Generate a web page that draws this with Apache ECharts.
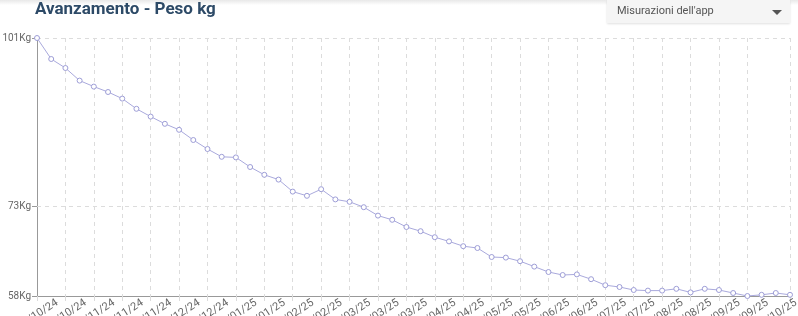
<!DOCTYPE html>
<html>
<head>
<meta charset="utf-8">
<script src="https://cdn.jsdelivr.net/npm/echarts@6/dist/echarts.min.js"></script>
<style>
  html, body { margin: 0; padding: 0; background: #fff; }
  #wrap { position: relative; width: 798px; height: 316px; overflow: hidden; font-family: Roboto, "Noto Sans", sans-serif; background: #fff; }
  #topshade { position: absolute; left: 0; top: 0; width: 798px; height: 5px; background: linear-gradient(#e8e8e8, rgba(255,255,255,0)); z-index: 1; }
  #chart { position: absolute; left: 0; top: 0; width: 798px; height: 316px; z-index: 2; }
  #dropdown { position: absolute; left: 607px; top: 0; width: 183px; height: 23px; background: #f5f5f5; box-shadow: 0 1px 2px rgba(0,0,0,0.12); z-index: 3; }
  #dropdown span { position: absolute; left: 10px; top: 4px; font-size: 11px; color: #555; line-height: 14px; }
  #dropdown i { position: absolute; left: 165px; top: 10px; width: 0; height: 0; border-left: 5px solid transparent; border-right: 5px solid transparent; border-top: 5px solid #555; }
</style>
</head>
<body>
<div id="wrap">
  <div id="topshade"></div>
  <div id="chart"></div>
  <div id="dropdown"><span>Misurazioni dell'app</span><i></i></div>
</div>
<script>
const titleText = 'Avanzamento - Peso kg';
const categories = [
  '04/10/24','11/10/24','18/10/24','25/10/24','01/11/24','08/11/24','15/11/24','22/11/24','29/11/24','06/12/24',
  '13/12/24','20/12/24','27/12/24','03/01/25','10/01/25','17/01/25','24/01/25','31/01/25','07/02/25','14/02/25',
  '21/02/25','28/02/25','04/03/25','09/03/25','15/03/25','21/03/25','28/03/25','04/04/25','11/04/25','18/04/25',
  '25/04/25','02/05/25','09/05/25','16/05/25','23/05/25','30/05/25','06/06/25','13/06/25','20/06/25','27/06/25',
  '04/07/25','11/07/25','18/07/25','25/07/25','01/08/25','08/08/25','15/08/25','22/08/25','02/09/25','09/09/25',
  '19/09/25','26/09/25','03/10/25','10/10/25'
];
const weights = [
  101.0, 97.5, 96.0, 93.9, 92.9, 92.0, 90.9, 89.2, 87.9, 86.7,
  85.7, 84.0, 82.5, 81.2, 81.1, 79.5, 78.2, 77.4, 75.4, 74.7,
  75.8, 74.1, 73.7, 72.8, 71.4, 70.7, 69.5, 68.8, 67.8, 67.1,
  66.3, 66.0, 64.5, 64.4, 63.8, 62.9, 62.0, 61.5, 61.6, 60.8,
  59.8, 59.5, 59.0, 58.9, 58.9, 59.2, 58.6, 59.2, 59.0, 58.5,
  58.0, 58.2, 58.5, 58.2
];
const yTickValues = [58, 73, 101];
const yMin = 58;
const yMax = 101;

const chart = echarts.init(document.getElementById('chart'), null, { renderer: 'canvas' });
const gridColor = '#dcdcdc';
const lastIdx = categories.length - 1;
const xGridInterval = (i) => (i % 2 === 0 && i <= lastIdx - 3) || i === lastIdx;

chart.setOption({
  animation: false,
  title: {
    text: titleText,
    left: 35,
    top: 1,
    padding: 0,
    textStyle: { fontFamily: 'Roboto', fontWeight: 'bold', fontSize: 17, color: '#2d4a67' }
  },
  grid: { left: 37, right: 8, top: 38, bottom: 20, containLabel: false, outerBoundsMode: 'none' },
  xAxis: {
    type: 'category',
    data: categories,
    boundaryGap: false,
    axisLine: { show: true, lineStyle: { color: '#999', width: 1 } },
    axisTick: { show: true, length: 5, interval: xGridInterval, lineStyle: { color: gridColor } },
    splitLine: { show: true, interval: xGridInterval, lineStyle: { color: gridColor, type: [4, 4], width: 1 } },
    axisLabel: {
      interval: (i) => i % 2 === 0,
      rotate: 33,
      margin: 19,
      padding: [0, -24, 0, 0],
      fontSize: 11,
      fontFamily: 'Roboto',
      color: '#666'
    }
  },
  yAxis: {
    type: 'value',
    min: yMin,
    max: yMax,
    axisLine: { show: true, lineStyle: { color: '#999', width: 1 } },
    axisTick: { show: true, length: 5, customValues: yTickValues, lineStyle: { color: '#999' } },
    axisLabel: {
      customValues: yTickValues,
      formatter: '{value}Kg',
      fontSize: 10,
      fontFamily: 'Roboto',
      color: '#666',
      margin: 6
    },
    splitLine: { show: false }
  },
  series: [{
    type: 'line',
    data: weights,
    symbol: 'circle',
    symbolSize: 5,
    showAllSymbol: true,
    lineStyle: { color: '#a9a9dc', width: 1 },
    itemStyle: { color: '#ffffff', borderColor: '#9d9dd6', borderWidth: 1 },
    z: 5,
    markLine: {
      silent: true,
      symbol: 'none',
      label: { show: false },
      lineStyle: { color: gridColor, type: [4, 4], width: 1 },
      data: yTickValues.slice(1).map(v => ({ yAxis: v }))
    }
  }]
});
</script>
</body>
</html>
